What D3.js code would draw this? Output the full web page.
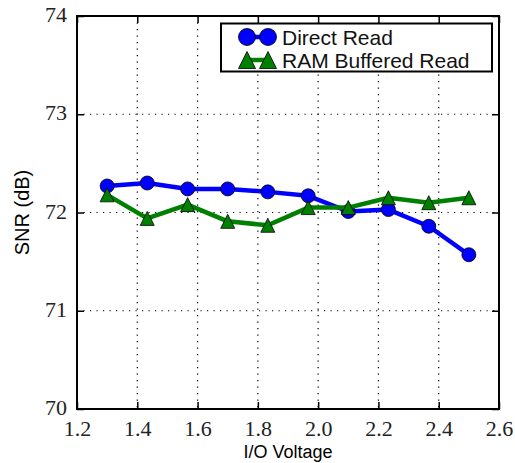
<!DOCTYPE html>
<html><head><meta charset="utf-8">
<script src="https://cdn.jsdelivr.net/npm/d3@7"></script>
<style>body{margin:0;background:#fff}
.tk text{font-family:'Liberation Serif','Times New Roman',serif !important;font-size:22px !important;}
</style>
</head><body>
<svg id="c" width="515" height="463"></svg>
<script>
const voltage = [1.30, 1.433, 1.567, 1.70, 1.833, 1.967, 2.10, 2.233, 2.367, 2.50];
const directRead = [72.27, 72.30, 72.24, 72.24, 72.21, 72.17, 72.01, 72.03, 71.86, 71.57];
const ramBuffered = [72.18, 71.94, 72.08, 71.91, 71.87, 72.05, 72.05, 72.15, 72.10, 72.15];
const xTicks = [1.2, 1.4, 1.6, 1.8, 2.0, 2.2, 2.4, 2.6];
const yTicks = [70, 71, 72, 73, 74];
const seriesNames = ["Direct Read", "RAM Buffered Read"];

const svg = d3.select("#c");
const L = 77, R = 499, T = 16, B = 409;
const x = d3.scaleLinear().domain([1.2, 2.6]).range([L, R]);
const y = d3.scaleLinear().domain([70, 74]).range([B, T]);

// grid
const g = svg.append("g");
g.selectAll(".vg").data(xTicks.slice(1, -1)).join("line")
  .attr("x1", d => x(d)).attr("x2", d => x(d)).attr("y1", T).attr("y2", B)
  .attr("stroke", "#000").attr("stroke-width", 1.2).attr("stroke-dasharray", "1.2,5.3");
g.selectAll(".hg").data(yTicks.slice(1, -1)).join("line")
  .attr("x1", L).attr("x2", R).attr("y1", d => y(d)).attr("y2", d => y(d))
  .attr("stroke", "#000").attr("stroke-width", 1.2).attr("stroke-dasharray", "1.2,5.3");

// axes with inner ticks
const sans = "'Liberation Sans', Arial, sans-serif";
const ax = svg.append("g").attr("class", "tk").attr("transform", `translate(0,${B})`)
  .call(d3.axisBottom(x).tickValues(xTicks).tickFormat(d3.format(".1f")).tickSizeInner(-7).tickSizeOuter(0).tickPadding(11));
const axT = svg.append("g").attr("class", "tk").attr("transform", `translate(0,${T})`)
  .call(d3.axisTop(x).tickValues(xTicks).tickFormat("").tickSizeInner(-7).tickSizeOuter(0));
const ay = svg.append("g").attr("class", "tk").attr("transform", `translate(${L},0)`)
  .call(d3.axisLeft(y).tickValues(yTicks).tickFormat(d3.format("d")).tickSizeInner(-7).tickSizeOuter(0).tickPadding(10));
const ayR = svg.append("g").attr("class", "tk").attr("transform", `translate(${R},0)`)
  .call(d3.axisRight(y).tickValues(yTicks).tickFormat("").tickSizeInner(-7).tickSizeOuter(0));
[ax, axT, ay, ayR].forEach(a => {
  a.attr("font-family", null).attr("font-size", null);
  a.select(".domain").remove();
  a.selectAll(".tick line").attr("stroke", "#000").attr("stroke-width", 1.5);
  a.selectAll("text").attr("fill", "#222");
});
ay.selectAll("text").attr("dy", "0.25em");

// series
const sdata = [
  {name: seriesNames[0], vals: directRead, color: "#0000ff", shape: "circle"},
  {name: seriesNames[1], vals: ramBuffered, color: "#008000", shape: "tri"}
];
const line = d3.line().x(d => x(d[0])).y(d => y(d[1]));
const triPath = s => `M0,${-s}L${s},${s}L${-s},${s}Z`;
function marker(sel, s, cx, cy, sz) {
  if (s.shape === "circle") {
    sel.append("circle").attr("cx", cx).attr("cy", cy).attr("r", sz)
      .attr("fill", s.color).attr("stroke", "#000").attr("stroke-width", 0.8);
  } else {
    sel.append("path").attr("d", triPath(sz)).attr("transform", `translate(${cx},${cy})`)
      .attr("fill", s.color).attr("stroke", "#000").attr("stroke-width", 0.8);
  }
}
sdata.forEach(s => {
  const pts = voltage.map((v, i) => [v, s.vals[i]]);
  svg.append("path").datum(pts).attr("d", line).attr("fill", "none")
    .attr("stroke", s.color).attr("stroke-width", 4.5).attr("stroke-linejoin", "round");
  const mg = svg.append("g");
  pts.forEach(p => marker(mg, s, x(p[0]), y(p[1]), 7));
});

// frame
svg.append("rect").attr("x", L).attr("y", T).attr("width", R - L).attr("height", B - T)
  .attr("fill", "none").attr("stroke", "#000").attr("stroke-width", 2);

// legend
const lg = svg.append("g");
lg.append("rect").attr("x", 221).attr("y", 23.5).attr("width", 271).attr("height", 48)
  .attr("fill", "#fff").attr("stroke", "#000").attr("stroke-width", 2);
sdata.forEach((s, i) => {
  const cy = 37 + i * 23;
  lg.append("line").attr("x1", 247).attr("x2", 268).attr("y1", cy).attr("y2", cy)
    .attr("stroke", s.color).attr("stroke-width", 4.5);
  marker(lg, s, 247, cy, 8.5);
  marker(lg, s, 268, cy, 8.5);
  lg.append("text").attr("x", 282).attr("y", cy + 7.5).text(s.name)
    .style("font-family", sans).style("font-size", "21px").attr("fill", "#111");
});

// axis labels
svg.append("text").attr("x", (L + R) / 2).attr("y", 458).attr("text-anchor", "middle")
  .style("font-family", sans).style("font-size", "18px").text("I/O Voltage");
svg.append("text").attr("transform", `translate(29,${(T + B) / 2}) rotate(-90)`).attr("text-anchor", "middle")
  .style("font-family", sans).style("font-size", "20px").text("SNR (dB)");
</script>
</body></html>
